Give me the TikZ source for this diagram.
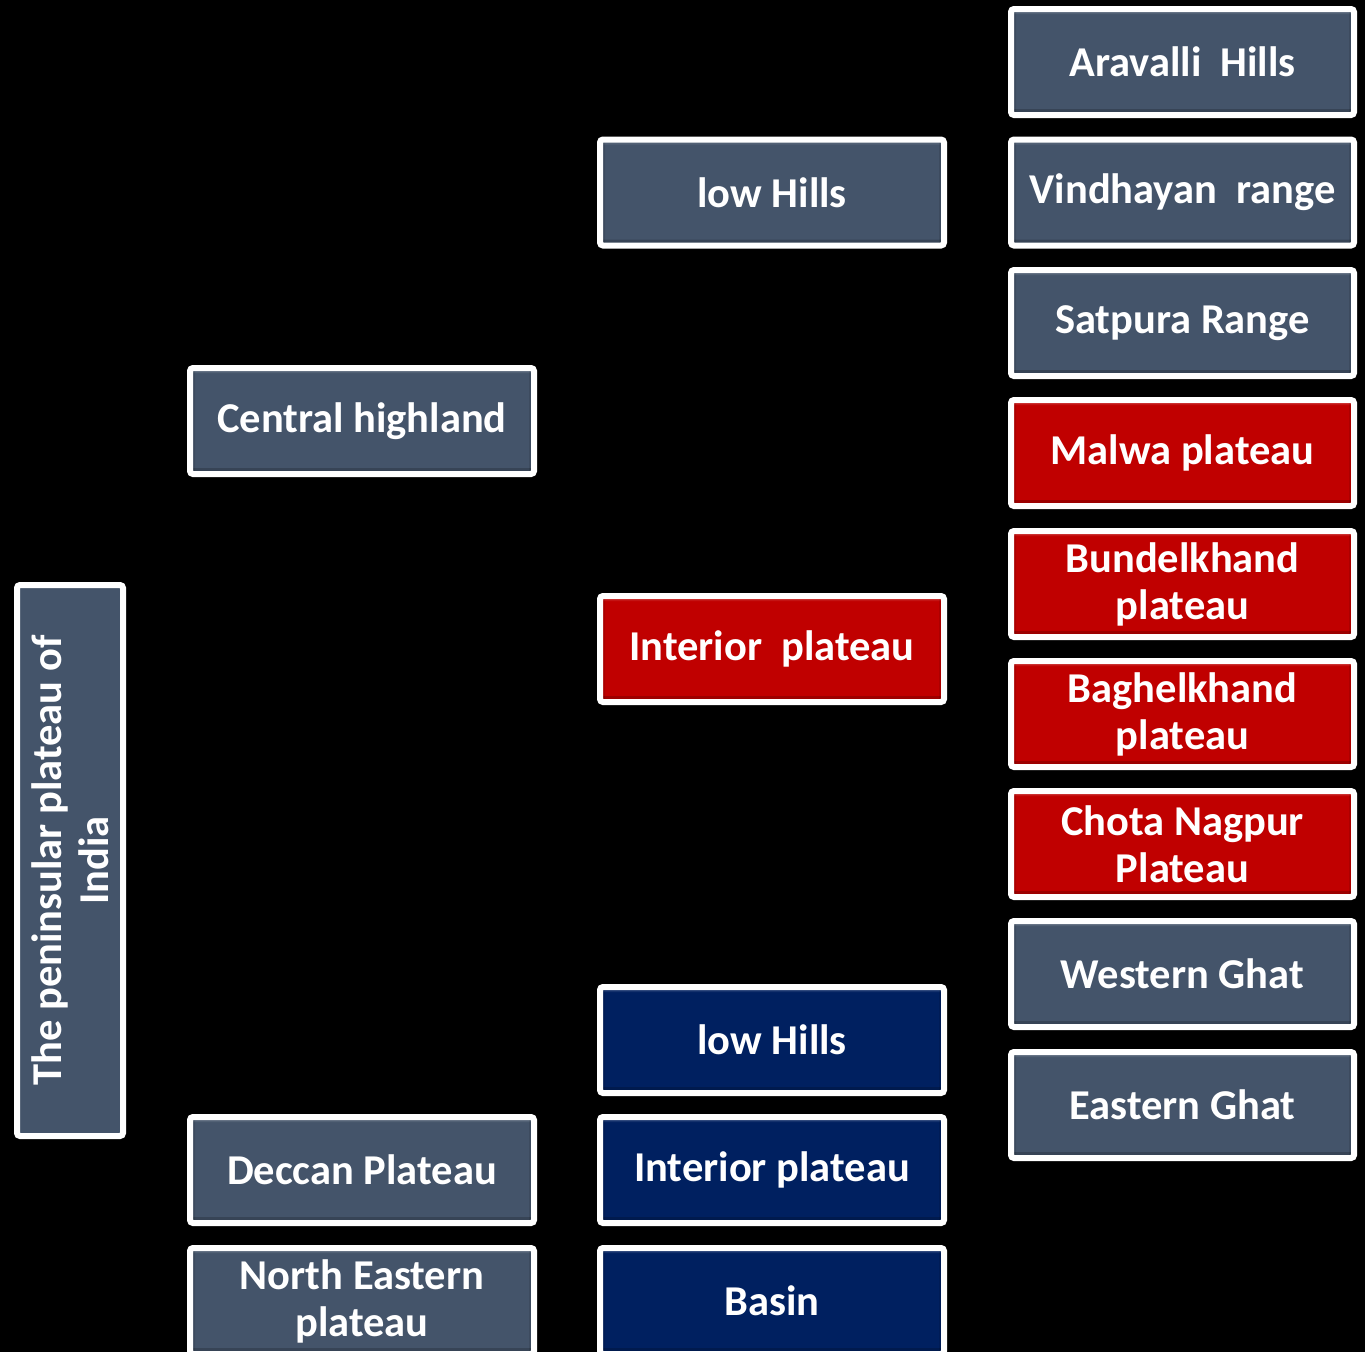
\documentclass[tikz,border=0pt]{standalone}
\usepackage{fontspec}
\setmainfont{Carlito}
\definecolor{slate}{RGB}{68,84,106}
\definecolor{crimson}{RGB}{192,0,0}
\definecolor{navy}{RGB}{0,32,96}
\begin{document}
\begin{tikzpicture}[x=1pt,y=-1pt,
  box/.style={draw=white, line width=6pt, rounded corners=3pt,
    fill=#1, text=white, font=\fontsize{42.5}{47}\selectfont\bfseries,
    align=center, inner sep=0pt,
    path picture={
      \fill[black,opacity=0.18] (path picture bounding box.south west) rectangle ([yshift=6pt]path picture bounding box.south east);
      \fill[white,opacity=0.08] (path picture bounding box.north west) rectangle ([yshift=-5pt]path picture bounding box.north east);
      \fill[black,opacity=0.10] (path picture bounding box.south west) rectangle ([xshift=5pt]path picture bounding box.north west);
      \fill[black,opacity=0.10] (path picture bounding box.south east) rectangle ([xshift=-5pt]path picture bounding box.north east);
    }},
  col/.style={box=#1, minimum width=344pt, minimum height=106pt},
  tall/.style={box=slate, minimum width=551pt, minimum height=106pt, rotate=90}]
  \fill[black] (0,0) rectangle (1365,1352);
  \useasboundingbox (0,0) rectangle (1365,1352);
  \clip (0,0) rectangle (1365,1352);

  % root
  \node[tall] (root) at (70,860.5) {The peninsular plateau of\\India};

  % first level
  \node[col=slate] (central) at (362,421) {Central highland};
  \node[col=slate] (deccan) at (362,1170) {Deccan Plateau};
  \node[col=slate] (northeast) at (362,1301) {North Eastern\\plateau};

  % second level
  \node[col=slate] (lowhills1) at (772,192.5) {low Hills};
  \node[col=crimson] (interior1) at (772,649) {Interior~~plateau};
  \node[col=navy] (lowhills2) at (772,1040) {low Hills};
  \node[col=navy] (interior2) at (772,1170) {Interior plateau};
  \node[col=navy] (basin) at (772,1301) {Basin};

  % third level
  \node[col=slate, minimum width=343pt] (aravalli) at (1182.5,62) {Aravalli~~Hills};
  \node[col=slate, minimum width=343pt] (vindhya) at (1182.5,192.5) {Vindhayan~~range};
  \node[col=slate, minimum width=343pt] (satpura) at (1182.5,323) {Satpura Range};
  \node[col=crimson, minimum width=343pt] (malwa) at (1182.5,453) {Malwa plateau};
  \node[col=crimson, minimum width=343pt] (bundel) at (1182.5,584) {Bundelkhand\\plateau};
  \node[col=crimson, minimum width=343pt] (baghel) at (1182.5,714) {Baghelkhand\\plateau};
  \node[col=crimson, minimum width=343pt] (chota) at (1182.5,844) {Chota Nagpur\\Plateau};
  \node[col=slate, minimum width=343pt] (western) at (1182.5,974) {Western Ghat};
  \node[col=slate, minimum width=343pt] (eastern) at (1182.5,1105) {Eastern Ghat};
\end{tikzpicture}
\end{document}
